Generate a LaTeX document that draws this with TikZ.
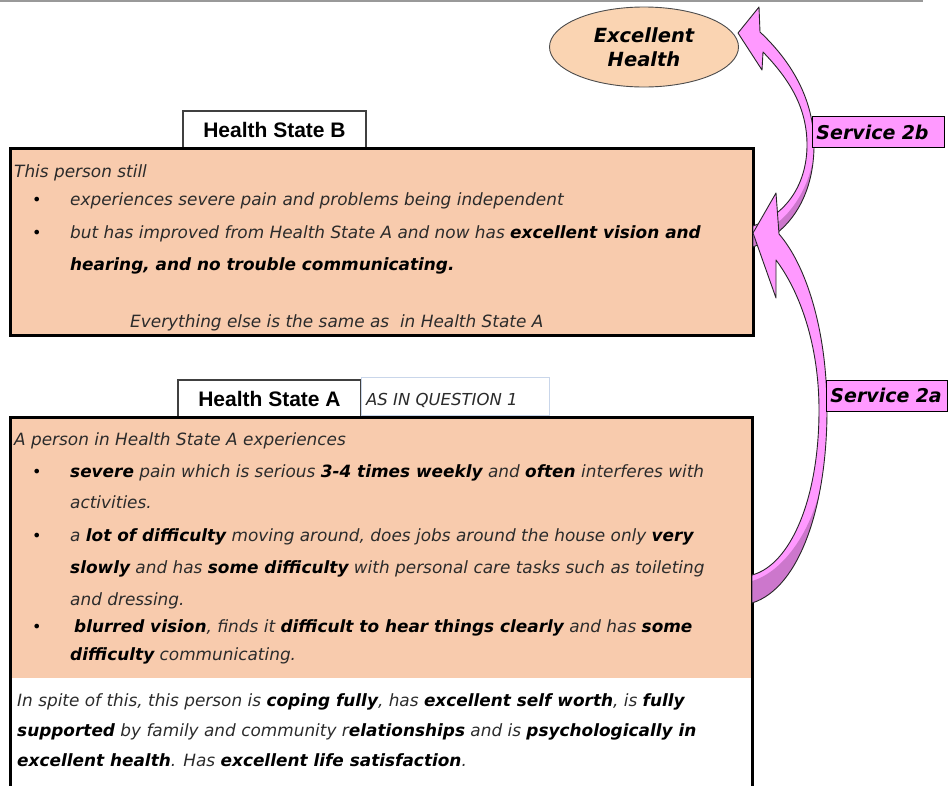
\documentclass[tikz,border=0pt]{standalone}
\usepackage{fontspec}
\setmainfont{DejaVu Sans}
\newfontfamily\tabfont{Liberation Sans}
\usetikzlibrary{shapes.geometric}
\definecolor{peach}{HTML}{F8CBAD}
\definecolor{ovalfill}{HTML}{FAD4B2}
\definecolor{svcpink}{HTML}{FF99FF}
\definecolor{svcdark}{HTML}{CC77CC}
\definecolor{qborder}{HTML}{C9D6EA}
\definecolor{bodytext}{HTML}{2B2B2B}
\newcommand\strongtxt[1]{\textbf{\color{black}#1}}
\begin{document}
\begin{tikzpicture}[x=1pt,y=-1pt,
  body/.style={anchor=base west, inner sep=0pt, font=\fontsize{16.9}{20}\selectfont\itshape, text=bodytext},
  bul/.style={anchor=base west, inner sep=0pt, font=\fontsize{16}{18}\selectfont, text=black},
  tabbox/.style={draw=black!75, line width=1.2pt, fill=white, minimum width=183pt, minimum height=38pt, inner sep=0pt, font=\tabfont\bfseries\fontsize{21}{24}\selectfont},
  svclabel/.style={draw=black, line width=0.9pt, fill=svcpink, anchor=west, inner ysep=0pt, inner xsep=4pt, minimum height=31pt, align=left, font=\bfseries\itshape\fontsize{19}{22}\selectfont},
  statebox/.style={draw=black, line width=3pt}
]
\useasboundingbox (0,0) rectangle (948,785);

% rule at the top of the page
\draw[black!40, line width=1.5pt] (0,1) -- (923,1);

% goal state
\node[ellipse, draw=black!70, line width=0.9pt, fill=ovalfill, minimum width=189pt, minimum height=80pt, inner sep=0pt, align=center, font=\bfseries\itshape\fontsize{19.5}{24}\selectfont] (goal) at (644,47) {Excellent\\Health};

% ---------------- Health State B ----------------
\node[tabbox] (tabB) at (274.5,130) {Health State B};
\fill[peach] (10,148) rectangle (753,335);
\draw[statebox] (10,148) rectangle (753,335);
\node[body] (bl1) at (14,177) {This person still};
\node[bul] (bb1) at (32,205) {•};
\node[body] (bl2) at (70,205) {experiences severe pain and problems being independent};
\node[bul] (bb2) at (32,238) {•};
\node[body] (bl3) at (70,238) {but has improved from Health State A and now has \strongtxt{excellent vision and}};
\node[body] (bl4) at (70,270) {\strongtxt{hearing, and no trouble communicating.}};
\node[body] (bl5) at (130,327) {Everything else is the same as\ \ in Health State A};

% ---------------- Health State A ----------------
\node[tabbox] (tabA) at (269.5,399) {Health State A};
\node[draw=qborder, line width=0.8pt, fill=white, minimum width=188pt, minimum height=38pt, inner sep=0pt] (qbox) at (455,396) {};
\node[body, anchor=west, font=\fontsize{16.5}{18}\selectfont\itshape] (qtxt) at (366,400) {AS IN QUESTION 1};
\fill[peach] (10,417) rectangle (752,678);
\draw[statebox] (10,790) -- (10,417) -- (752,417) -- (752,790);
\node[body] (al1) at (14,445) {A person in Health State A experiences};
\node[bul] (ab1) at (32,477) {•};
\node[body] (al2) at (70,477) {\strongtxt{severe} pain which is serious \strongtxt{3-4 times weekly} and \strongtxt{often} interferes with};
\node[body] (al3) at (70,508) {activities.};
\node[bul] (ab2) at (32,541) {•};
\node[body] (al4) at (70,541) {a \strongtxt{lot of difficulty} moving around, does jobs around the house only \strongtxt{very}};
\node[body] (al5) at (70,573) {\strongtxt{slowly} and has \strongtxt{some difficulty} with personal care tasks such as toileting};
\node[body] (al6) at (70,605) {and dressing.};
\node[bul] (ab3) at (32,632) {•};
\node[body] (al7) at (74,632) {\strongtxt{blurred vision}, finds it \strongtxt{difficult to hear things clearly} and has \strongtxt{some}};
\node[body] (al8) at (70,660) {\strongtxt{difficulty} communicating.};
\node[body] (aw1) at (17,706) {In spite of this, this person is \strongtxt{coping fully}, has \strongtxt{excellent self worth}, is \strongtxt{fully}};
\node[body] (aw2) at (17,736) {\strongtxt{supported} by family and community r\strongtxt{elationships} and is \strongtxt{psychologically in}};
\node[body] (aw3) at (17,766) {\strongtxt{excellent health}. Has \strongtxt{excellent life satisfaction}.};

% ---------------- curved service arrows ----------------
\def\pathTwoB{(738,33) -- (759,7) -- (760,32) .. controls (792,62) and (814,100) .. (814,145) .. controls (814,190) and (795,230) .. (753,247) -- (753,226) .. controls (790,213) and (807,180) .. (807,145) .. controls (807,108) and (790,80) .. (763,52) -- (762,70) -- cycle}
\def\pathTwoA{(753,233) -- (776,193) -- (779,234) .. controls (806,265) and (827,330) .. (827,410) .. controls (827,505) and (800,588) .. (752,603) -- (752,575) .. controls (790,565) and (819,500) .. (819,410) .. controls (819,345) and (800,292) .. (776,260) -- (776,298) -- cycle}

% Service 2b: from state B up to the goal
\fill[svcpink] \pathTwoB;
\begin{scope}
  \clip \pathTwoB;
  \fill[svcdark] (753,236) .. controls (785,226) and (805,195) .. (812,165) -- (840,165) -- (840,270) -- (740,270) -- cycle;
\end{scope}
\draw[black!85, line width=0.9pt, line join=round] \pathTwoB;

% Service 2a: from state A up to state B
\fill[svcpink] \pathTwoA;
\begin{scope}
  \clip \pathTwoA;
  \fill[svcdark] (752,581) .. controls (783,572) and (815,530) .. (824,470) -- (860,470) -- (860,640) -- (730,640) -- cycle;
\end{scope}
\draw[black!85, line width=0.9pt, line join=round] \pathTwoA;

% service labels
\node[svclabel, text width=124pt] (svc2b) at (812,132) {Service 2b};
\node[svclabel, text width=113pt] (svc2a) at (826,395.5) {Service 2a};
\end{tikzpicture}
\end{document}
